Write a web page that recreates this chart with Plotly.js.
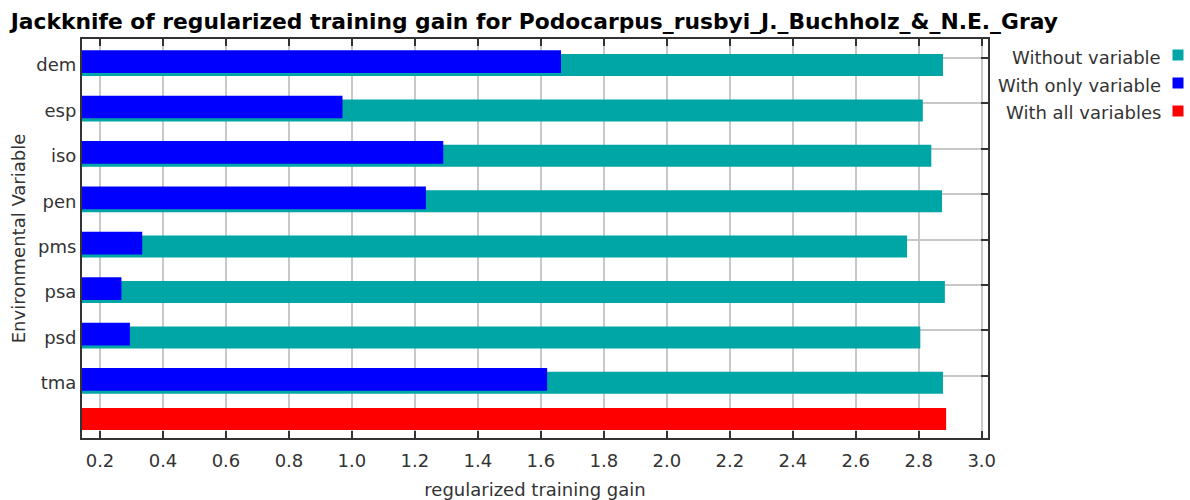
<!DOCTYPE html>
<html>
<head>
<meta charset="utf-8">
<script src="https://cdn.plot.ly/plotly-3.0.1.min.js"></script>
<style>
  html, body { margin: 0; padding: 0; background: #fff; }
  #jackknife { width: 1190px; height: 500px; }
</style>
</head>
<body>
<div id="jackknife"></div>
<script>
const variables = ['dem', 'esp', 'iso', 'pen', 'pms', 'psa', 'psd', 'tma']
const withoutVariable = [2.877, 2.813, 2.840, 2.874, 2.763, 2.883, 2.805, 2.877]
const withOnlyVariable = [1.664, 0.970, 1.290, 1.235, 0.334, 0.268, 0.295, 1.620]
const withAllVariables = [2.887]
const seriesNames = ['Without variable', 'With only variable', 'With all variables']
const seriesColors = ['#00A6A6', '#0000FF', '#FF0000']

const FONT = '"DejaVu Sans", Verdana, sans-serif'
const positions = variables.map((v, i) => i)

// teal drawn first, blue overlaid a little higher, red "all" bar under the list
const data = [
  {
    type: 'bar', orientation: 'h', name: seriesNames[0],
    x: withoutVariable, y: positions,
    width: 0.485, offset: -0.088,
    marker: { color: seriesColors[0], line: { width: 0 } },
    hoverinfo: 'x+name',
  },
  {
    type: 'bar', orientation: 'h', name: seriesNames[1],
    x: withOnlyVariable, y: positions,
    width: 0.5, offset: -0.17,
    marker: { color: seriesColors[1], line: { width: 0 } },
    hoverinfo: 'x+name',
  },
  {
    type: 'bar', orientation: 'h', name: seriesNames[2],
    x: withAllVariables, y: [variables.length],
    width: 0.485, offset: -0.29,
    yaxis: 'y2',
    marker: { color: seriesColors[2], line: { width: 0 } },
    hoverinfo: 'x+name',
  },
]

const yRange = [8.37, -0.418]

// legend built as annotations: right-aligned text with the swatch on its right
const legendTop = 57.5, legendStep = 27.5
const toPaperY = py => (438 - py) / 399
const annotations = []
seriesNames.forEach((name, i) => {
  annotations.push({
    xref: 'paper', yref: 'paper',
    x: (1163 - 82) / 906, y: toPaperY(legendTop + i * legendStep),
    xanchor: 'right', yanchor: 'middle',
    text: name, showarrow: false,
    font: { family: FONT, size: 18, color: '#333333' },
  })
  annotations.push({
    xref: 'paper', yref: 'paper',
    x: (1178 - 82) / 906, y: toPaperY(legendTop - 2 + i * legendStep),
    xanchor: 'center', yanchor: 'middle',
    text: ' ', showarrow: false,
    width: 10, height: 10, borderpad: 0,
    bgcolor: seriesColors[i],
  })
})

const layout = {
  width: 1190,
  height: 500,
  margin: { l: 82, r: 202, t: 39, b: 62, pad: 0 },
  paper_bgcolor: '#ffffff',
  plot_bgcolor: '#ffffff',
  barmode: 'overlay',
  showlegend: false,
  title: {
    text: '<b>Jackknife of regularized training gain for Podocarpus_rusbyi_J._Buchholz_&_N.E._Gray</b>',
    font: { family: FONT, size: 21.8, color: '#000000' },
    xref: 'container', x: 0.009, xanchor: 'left',
    yref: 'container', y: 1 - 21 / 500, yanchor: 'middle',
  },
  xaxis: {
    range: [0.1428, 3.020],
    tick0: 0, dtick: 0.2, tickformat: '.1f',
    ticks: 'inside', ticklen: 7, tickwidth: 2, tickcolor: '#333333',
    showline: true, linecolor: '#333333', linewidth: 2, mirror: 'ticks',
    showgrid: true, gridcolor: '#c8c8c8', gridwidth: 2,
    zeroline: false,
    tickfont: { family: FONT, size: 18, color: '#333333' },
    ticklabelstandoff: 5,
    title: { text: 'regularized training gain', font: { family: FONT, size: 18, color: '#333333' }, standoff: 14 },
  },
  yaxis: {
    range: yRange,
    tickvals: positions, ticktext: variables,
    ticks: '', showline: true, linecolor: '#333333', linewidth: 2, mirror: true,
    showgrid: true, gridcolor: '#c8c8c8', gridwidth: 2,
    zeroline: false,
    ticklabelshift: -7,
    ticklabelstandoff: 0,
    tickfont: { family: FONT, size: 18, color: '#333333' },
    title: { text: 'Environmental Variable', font: { family: FONT, size: 18, color: '#333333' }, standoff: 6 },
  },
  yaxis2: {
    overlaying: 'y', side: 'right',
    range: yRange,
    tickvals: positions,
    ticks: 'inside', ticklen: 7, tickwidth: 2, tickcolor: '#333333',
    showticklabels: false, showgrid: false, showline: false, zeroline: false,
  },
  annotations,
}

Plotly.newPlot('jackknife', data, layout, { displayModeBar: false, staticPlot: true })
</script>
</body>
</html>
